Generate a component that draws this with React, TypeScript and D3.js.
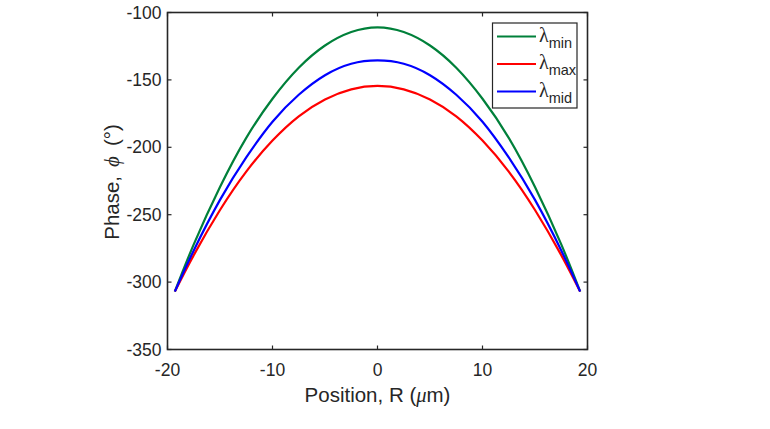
import React from "react";
import * as d3 from "d3";

// Radial positions (µm) at which the phase profiles are sampled
const positions = [-19.3, -17.5, -15, -12.5, -10, -7.5, -5, -2.5, 0, 2.5, 5, 7.5, 10, 12.5, 15, 17.5, 19.3];
// Phase (degrees) for each design wavelength
const phaseMin = [-307, -272, -229.5, -193, -164, -141, -124.5, -114.5, -111, -114.5, -124.5, -141, -164, -193, -229.5, -272, -307];
const phaseMax = [-307, -280, -246.5, -218, -195, -177, -164.5, -157, -154.5, -157, -164.5, -177, -195, -218, -246.5, -280, -307];
const phaseMid = [-307, -276.5, -239, -207.5, -181, -161, -146.5, -138, -135.5, -138, -146.5, -161, -181, -207.5, -239, -276.5, -307];

const xTicks = [-20, -10, 0, 10, 20];
const yTicks = [-350, -300, -250, -200, -150, -100];

const series = [
  { key: "min", values: phaseMin, color: "#00803a" },
  { key: "max", values: phaseMax, color: "#ff0000" },
  { key: "mid", values: phaseMid, color: "#0000ff" },
];

export default function App() {
  const W = 770, H = 429;
  const left = 167.5, right = 587.5, top = 12.5, bottom = 349.5;
  const x = d3.scaleLinear().domain([-20, 20]).range([left, right]);
  const y = d3.scaleLinear().domain([-350, -100]).range([bottom, top]);
  const line = d3
    .line<number>()
    .x((_, i) => x(positions[i]))
    .y((v) => y(v))
    .curve(d3.curveNatural);
  const font = "'Liberation Sans', Arial, sans-serif";
  const axisColor = "#262626";
  const tick = 4;

  return (
    <svg width={W} height={H} style={{ position: "absolute", left: 0, top: 0, background: "#fff" }}>
      <rect x={0} y={0} width={W} height={H} fill="#fff" />
      {series.map((s) => (
        <path key={s.key} d={line(s.values) || ""} fill="none" stroke={s.color} strokeWidth={2.2} />
      ))}
      {/* axes box */}
      <rect x={left} y={top} width={right - left} height={bottom - top} fill="none" stroke={axisColor} strokeWidth={1.6} />
      {xTicks.map((t) => (
        <g key={"x" + t}>
          <line x1={x(t)} x2={x(t)} y1={bottom} y2={bottom - tick} stroke={axisColor} strokeWidth={1.2} />
          <line x1={x(t)} x2={x(t)} y1={top} y2={top + tick} stroke={axisColor} strokeWidth={1.2} />
          <text x={x(t)} y={bottom + 26} textAnchor="middle" fontFamily={font} fontSize={17.5} fill="#262626">
            {t}
          </text>
        </g>
      ))}
      {yTicks.map((t) => (
        <g key={"y" + t}>
          <line x1={left} x2={left + tick} y1={y(t)} y2={y(t)} stroke={axisColor} strokeWidth={1.2} />
          <line x1={right} x2={right - tick} y1={y(t)} y2={y(t)} stroke={axisColor} strokeWidth={1.2} />
          <text x={left - 6} y={y(t) + 6} textAnchor="end" fontFamily={font} fontSize={17.5} fill="#262626">
            {t}
          </text>
        </g>
      ))}
      {/* axis titles */}
      <text x={(left + right) / 2} y={402} textAnchor="middle" fontFamily={font} fontSize={20.5} fill="#262626">
        Position, R (<tspan fontFamily="'Liberation Serif', serif" fontStyle="italic">μ</tspan>m)
      </text>
      <text
        transform={`translate(119, ${(top + bottom) / 2 + 1}) rotate(-90)`}
        textAnchor="middle"
        fontFamily={font}
        fontSize={20.5}
        fill="#262626"
      >
        Phase,
        <tspan dx={9} fontFamily="'Liberation Serif', serif" fontStyle="italic" fontSize={21}>ϕ</tspan>
        <tspan dx={10}>(°)</tspan>
      </text>
      {/* legend */}
      <rect x={492.5} y={23} width={84.5} height={85} fill="#fff" stroke={axisColor} strokeWidth={1.2} />
      {series.map((s, i) => {
        const ly = 36.5 + i * 27.5;
        return (
          <g key={"lg" + s.key}>
            <line x1={497} x2={536} y1={ly} y2={ly} stroke={s.color} strokeWidth={2.2} />
            <text x={539} y={ly + 5} fontFamily={font} fontSize={19} fill="#262626">
              <tspan fontFamily="'Liberation Serif', serif" fontSize={20}>λ</tspan>
              <tspan fontSize={14.5} dy={6}>{s.key}</tspan>
            </text>
          </g>
        );
      })}
      {/* caption text running below the figure */}
      <text x={0} y={442} fontFamily="'Liberation Serif', serif" fontSize={17} fill="#555">
        ing d. Calculated phase distribution of the metalens along the radial direction f
      </text>
    </svg>
  );
}
